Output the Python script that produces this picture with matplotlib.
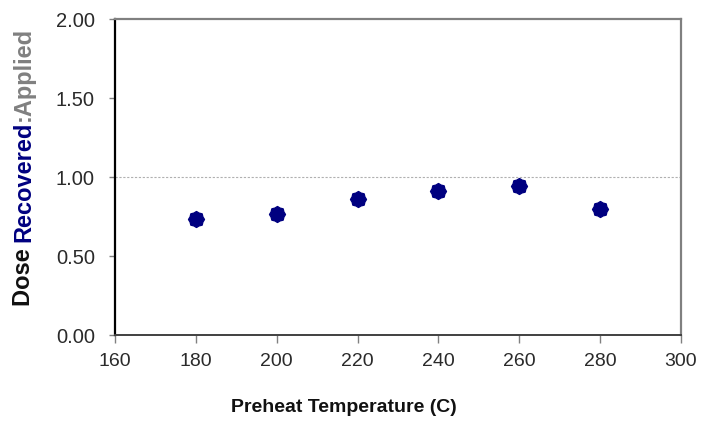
import numpy as np
import matplotlib
matplotlib.use("Agg")
import matplotlib.pyplot as plt
from matplotlib.path import Path

plt.rcParams['font.family'] = ['Liberation Sans', 'DejaVu Sans']

# Data
preheat_temp = [180, 200, 220, 240, 260, 280]
dose_ratio = [0.733, 0.764, 0.859, 0.912, 0.946, 0.800]
x_ticks = [160, 180, 200, 220, 240, 260, 280, 300]
y_ticks = [0.0, 0.5, 1.0, 1.5, 2.0]

navy = '#000080'

# Rounded 8-point star marker
n = 8
ang = np.linspace(0, 2 * np.pi, 2 * n, endpoint=False) + np.pi / 2
rad = np.where(np.arange(2 * n) % 2 == 0, 1.0, 0.86)
verts = np.column_stack([rad * np.cos(ang), rad * np.sin(ang)])
verts = np.vstack([verts, verts[:1]])
codes = [Path.MOVETO] + [Path.LINETO] * (2 * n - 1) + [Path.CLOSEPOLY]
star = Path(verts, codes)

fig = plt.figure(figsize=(7.06, 4.32), dpi=100)
ax = fig.add_axes([0.163, 0.2245, 0.8016, 0.7304])

ax.axhline(1.0, color='#b0b0b0', lw=0.8, ls=(0, (2, 1.5)), zorder=1)
ax.plot(preheat_temp, dose_ratio, ls='none', marker=star, ms=11.5,
        mfc=navy, mec=navy, zorder=3)

ax.set_xlim(160, 300)
ax.set_ylim(0, 2.0)
ax.set_xticks(x_ticks)
ax.set_yticks(y_ticks)
ax.set_yticklabels([f"{v:.2f}" for v in y_ticks])

for side in ['top', 'right']:
    ax.spines[side].set_color('#808080')
    ax.spines[side].set_linewidth(1.6)
ax.spines['left'].set_color('#000000')
ax.spines['left'].set_linewidth(1.6)
ax.spines['bottom'].set_color('#404040')
ax.spines['bottom'].set_linewidth(1.4)

ax.tick_params(axis='y', direction='out', length=4.5, width=1, color='#808080',
               labelsize=14.5, labelcolor='#2a2a2a', pad=10)
ax.tick_params(axis='x', direction='out', length=6, width=1, color='#808080',
               labelsize=14, labelcolor='#2a2a2a', pad=7)

fig.text(344 / 706, 1 - 408 / 432, 'Preheat Temperature (C)', ha='center',
         va='center', fontsize=14, fontweight='bold', color='#111111')

# Multi-coloured rotated y-axis label, stacked bottom to top
pieces = [('Dose ', '#111111'), ('Recovered', navy), (':Applied', '#808080')]
fig.canvas.draw()
renderer = fig.canvas.get_renderer()
x_px = 23.5
y_px = 432 - 306  # bottom of label in pixels from figure bottom
for txt, col in pieces:
    t = fig.text(x_px / 706, y_px / 432, txt, rotation=90, ha='center',
                 va='bottom', fontsize=17, fontweight='bold', color=col)
    bb = t.get_window_extent(renderer)
    y_px += bb.height

fig.savefig('out.png', dpi=100)
